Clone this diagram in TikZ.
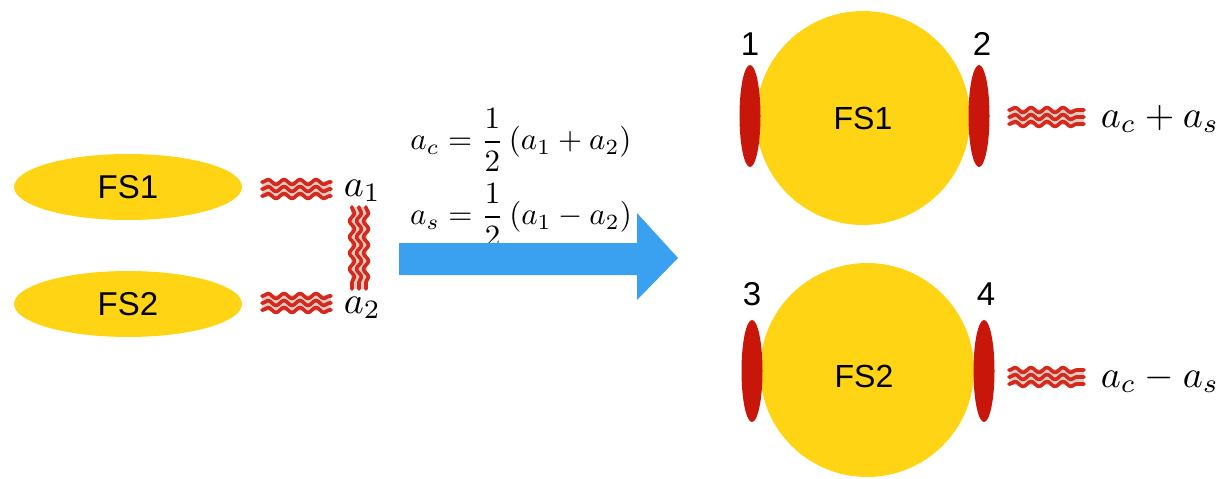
\documentclass[tikz,border=0pt]{standalone}
\usepackage{fontspec}
\newfontfamily\lsans{Liberation Sans}
\usetikzlibrary{shapes.geometric,decorations.pathmorphing}
\definecolor{fsyellow}{RGB}{255,212,20}
\definecolor{patchred}{RGB}{200,22,10}
\definecolor{wavered}{RGB}{215,40,30}
\definecolor{wavegap}{RGB}{220,205,195}
\definecolor{arrowblue}{RGB}{58,160,240}
\tikzset{
  fsflat/.style={ellipse, fill=fsyellow, minimum width=228pt, minimum height=66pt, inner sep=0pt,
    font=\lsans\fontsize{33}{38}\selectfont},
  fsround/.style={circle, fill=fsyellow, minimum size=214pt, inner sep=0pt},
  fstext/.style={font=\lsans\fontsize{32}{38}\selectfont, inner sep=0pt},
  patch/.style={ellipse, fill=patchred, minimum width=21pt, minimum height=102pt, inner sep=0pt},
  numlab/.style={font=\lsans\fontsize{33}{38}\selectfont, inner sep=0pt},
  mathlab/.style={scale=3.8, inner sep=0pt},
  eqlab/.style={scale=3.1, inner sep=0pt},
  wave/.style={draw=wavered, line width=3.6pt, line join=round, line cap=round, decorate,
    decoration={snake, amplitude=2.5pt, segment length=16pt, pre length=1pt, post length=1pt}},
  waveband/.style={draw=wavegap, line width=16pt}
}
\begin{document}
\begin{tikzpicture}[x=1pt,y=-1pt]
\useasboundingbox (0,0) rectangle (1226,479);

% left Fermi surfaces
\node[fsflat] (fs1l) at (128,187) {FS1};
\node[fsflat] (fs2l) at (128,304) {FS2};

% left wavy bundles
\coordinate (w1a) at (262,189); \coordinate (w1b) at (331,189);
\coordinate (w2a) at (262,303); \coordinate (w2b) at (331,303);
\coordinate (wva) at (359,207); \coordinate (wvb) at (359,289);
\draw[waveband] (w1a) -- (w1b);
\draw[waveband] (w2a) -- (w2b);
\draw[waveband] (wva) -- (wvb);
\foreach \d in {-7,0,7}{
  \draw[wave] ([yshift=\d pt]w1a) -- ([yshift=\d pt]w1b);
  \draw[wave] ([yshift=\d pt]w2a) -- ([yshift=\d pt]w2b);
  \draw[wave] ([xshift=\d pt]wva) -- ([xshift=\d pt]wvb);
}
\node[mathlab, anchor=base west] (a1) at (343,196) {$a_1$};
\node[mathlab, anchor=base west] (a2) at (343,313) {$a_2$};

% equations
\node[eqlab] (eqc) at (521,140) {$\displaystyle a_c=\frac{1}{2}\left(a_1+a_2\right)$};
\node[eqlab] (eqs) at (521,215) {$\displaystyle a_s=\frac{1}{2}\left(a_1-a_2\right)$};

% big arrow
\fill[arrowblue] (399,243) -- (637,243) -- (637,213) -- (678,258) -- (637,300) -- (637,275) -- (399,275) -- cycle;

% right Fermi surfaces
\node[fsround] (fs1r) at (863,118) {};
\node[fsround] (fs2r) at (867,370) {};
\node[fstext] (t1) at (863,118) {FS1};
\node[fstext] (t2) at (864,376) {FS2};
\node[patch] (p1) at (750,116) {};
\node[patch] (p2) at (979,116) {};
\node[patch] (p3) at (752,371) {};
\node[patch] (p4) at (984,371) {};
\node[numlab, anchor=south] (n1) at (750,56) {1};
\node[numlab, anchor=south] (n2) at (982,56) {2};
\node[numlab, anchor=south] (n3) at (752,306) {3};
\node[numlab, anchor=south] (n4) at (986,306) {4};

% right wavy bundles
\coordinate (r1a) at (1009,117); \coordinate (r1b) at (1084,117);
\coordinate (r2a) at (1009,377); \coordinate (r2b) at (1084,377);
\draw[waveband] (r1a) -- (r1b);
\draw[waveband] (r2a) -- (r2b);
\foreach \d in {-7,0,7}{
  \draw[wave] ([yshift=\d pt]r1a) -- ([yshift=\d pt]r1b);
  \draw[wave] ([yshift=\d pt]r2a) -- ([yshift=\d pt]r2b);
}
\node[mathlab, anchor=west] (acs) at (1100,119) {$a_c+a_s$};
\node[mathlab, anchor=west] (acd) at (1100,379) {$a_c-a_s$};
\end{tikzpicture}
\end{document}
